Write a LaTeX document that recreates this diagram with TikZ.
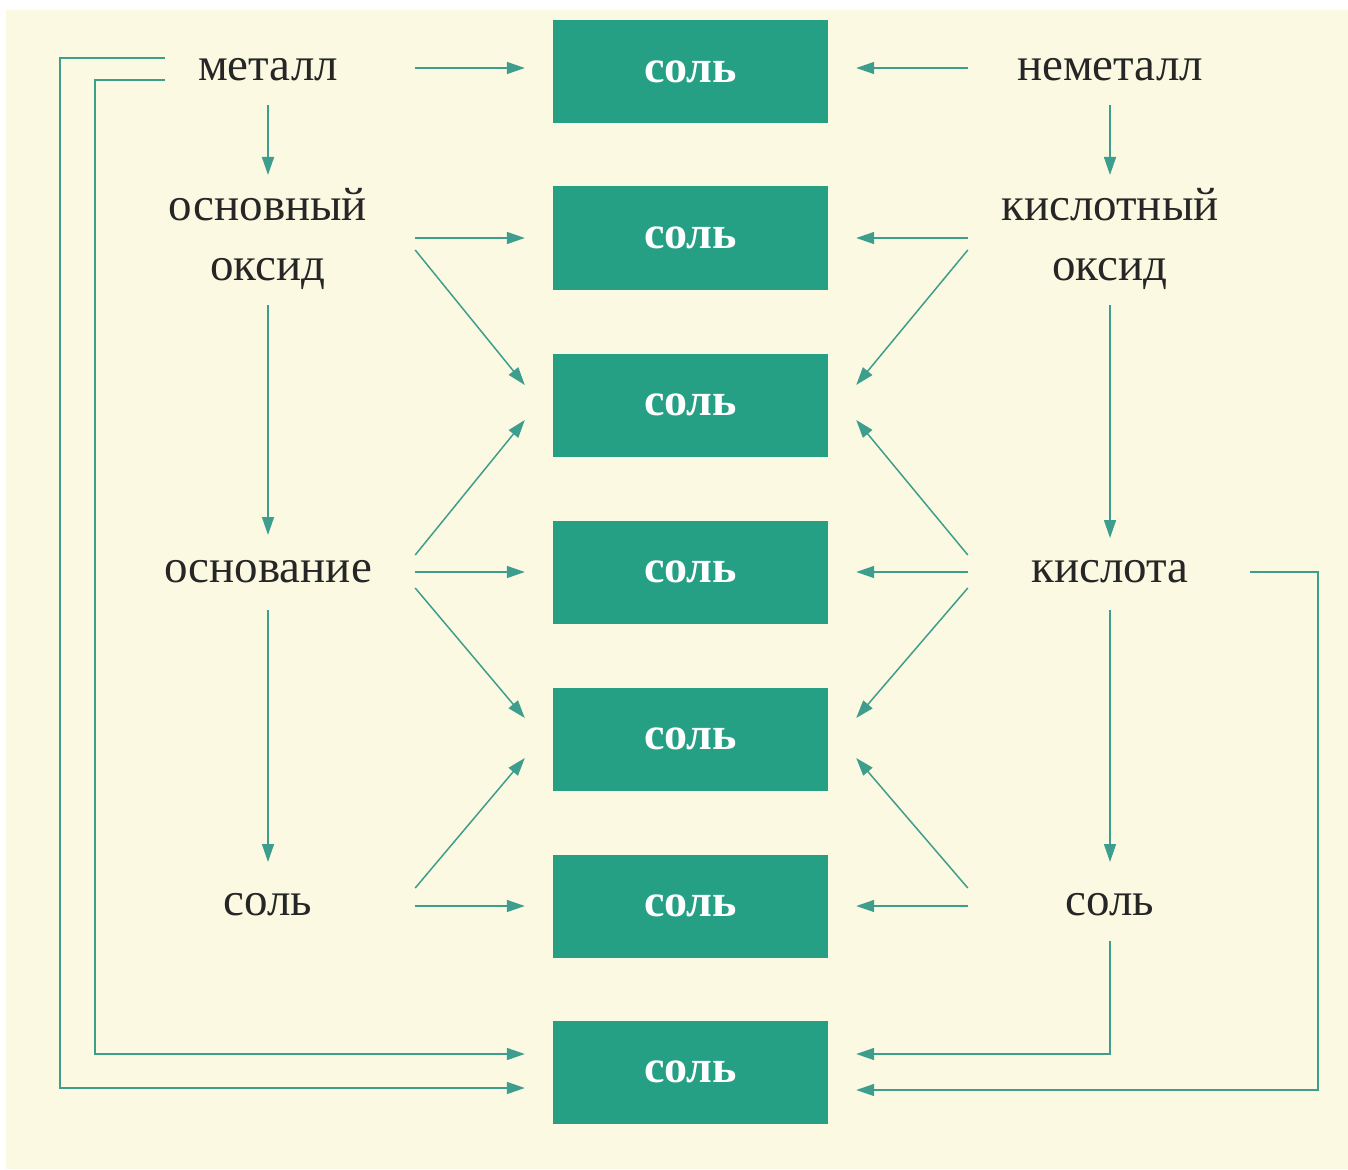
\documentclass[tikz,border=0pt]{standalone}
\usepackage{fontspec}
\setmainfont{Liberation Serif}
\usetikzlibrary{arrows.meta,calc}
\definecolor{bg}{HTML}{FCF9E2}
\definecolor{boxc}{HTML}{26A085}
\definecolor{arr}{HTML}{3E9E8E}
\begin{document}
\begin{tikzpicture}[x=1pt,y=-1pt,
  lbl/.style={font=\fontsize{47}{60}\selectfont, inner sep=0pt, align=center, text=black!85},
  lblL/.style={lbl, minimum width=294pt},
  lblR/.style={lbl, minimum width=284pt},
  salt/.style={fill=boxc, minimum width=275pt, minimum height=103pt, inner sep=0pt,
    text=white, font=\fontsize{46}{50}\selectfont\bfseries},
  ln/.style={draw=arr, line width=1.5pt},
  arw/.style={ln, -{Triangle[length=18pt,width=12pt]}}]
\useasboundingbox (0,0) rectangle (1348,1169);
\fill[white] (0,0) rectangle (1348,1169);
\fill[bg] (6,10) rectangle (1348,1169);

% salt boxes
\node[salt] (b1) at (690.5,72) {соль};
\node[salt] (b2) at (690.5,238) {соль};
\node[salt] (b3) at (690.5,405) {соль};
\node[salt] (b4) at (690.5,572) {соль};
\node[salt] (b5) at (690.5,739) {соль};
\node[salt] (b6) at (690.5,906) {соль};
\node[salt] (b7) at (690.5,1072) {соль};

% left column
\node[lblL] (met) at (268,70) {металл};
\node[lblL] (osx) at (268,239) {основный\\оксид};
\node[lblL] (osn) at (268,572) {основание};
\node[lblL] (sl) at (268,905) {соль};
% right column
\node[lblR] (nem) at (1110,70) {неметалл};
\node[lblR] (kox) at (1110,239) {кислотный\\оксид};
\node[lblR] (kis) at (1110,572) {кислота};
\node[lblR] (sr) at (1110,905) {соль};

% vertical chains
\draw[arw] ($(met.center)+(0,35)$) -- ($(osx.center)+(0,-64)$);
\draw[arw] ($(osx.center)+(0,66)$) -- ($(osn.center)+(0,-37)$);
\draw[arw] ($(osn.center)+(0,38)$) -- ($(sl.center)+(0,-43)$);
\draw[arw] ($(nem.center)+(0,35)$) -- ($(kox.center)+(0,-64)$);
\draw[arw] ($(kox.center)+(0,66)$) -- ($(kis.center)+(0,-34)$);
\draw[arw] ($(kis.center)+(0,38)$) -- ($(sr.center)+(0,-43)$);

% left arrows into boxes
\draw[arw] ($(met.east)+(0,-2)$) -- ($(b1.west)+(-28,-4)$);
\draw[arw] ($(osx.east)+(0,-1)$) -- ($(b2.west)+(-28,0)$);
\draw[arw] ($(osx.east)+(0,11)$) -- ($(b3.west)+(-28,-20)$);
\draw[arw] ($(osn.east)+(0,-17)$) -- ($(b3.west)+(-28,15)$);
\draw[arw] ($(osn.east)+(0,0)$) -- ($(b4.west)+(-28,0)$);
\draw[arw] ($(osn.east)+(0,16)$) -- ($(b5.west)+(-28,-21)$);
\draw[arw] ($(sl.east)+(0,-17)$) -- ($(b5.west)+(-28,19)$);
\draw[arw] ($(sl.east)+(0,1)$) -- ($(b6.west)+(-28,0)$);

% right arrows into boxes
\draw[arw] ($(nem.west)+(0,-2)$) -- ($(b1.east)+(28,-4)$);
\draw[arw] ($(kox.west)+(0,-1)$) -- ($(b2.east)+(28,0)$);
\draw[arw] ($(kox.west)+(0,11)$) -- ($(b3.east)+(28,-20)$);
\draw[arw] ($(kis.west)+(0,-17)$) -- ($(b3.east)+(28,15)$);
\draw[arw] ($(kis.west)+(0,0)$) -- ($(b4.east)+(28,0)$);
\draw[arw] ($(kis.west)+(0,16)$) -- ($(b5.east)+(28,-21)$);
\draw[arw] ($(sr.west)+(0,-17)$) -- ($(b5.east)+(28,19)$);
\draw[arw] ($(sr.west)+(0,1)$) -- ($(b6.east)+(28,0)$);

% long connectors to the bottom box
\draw[arw] ($(met.center)+(-103,-12)$) -| ($(b7.west)+(-493,16)$) -- ($(b7.west)+(-28,16)$);
\draw[arw] ($(met.center)+(-103,10)$) -| ($(b7.west)+(-458,-18)$) -- ($(b7.west)+(-28,-18)$);
\draw[arw] ($(sr.center)+(0,36)$) |- ($(b7.east)+(28,-18)$);
\draw[arw] ($(kis.center)+(140,0)$) -| ($(b7.east)+(490,18)$) -- ($(b7.east)+(28,18)$);
\end{tikzpicture}
\end{document}
